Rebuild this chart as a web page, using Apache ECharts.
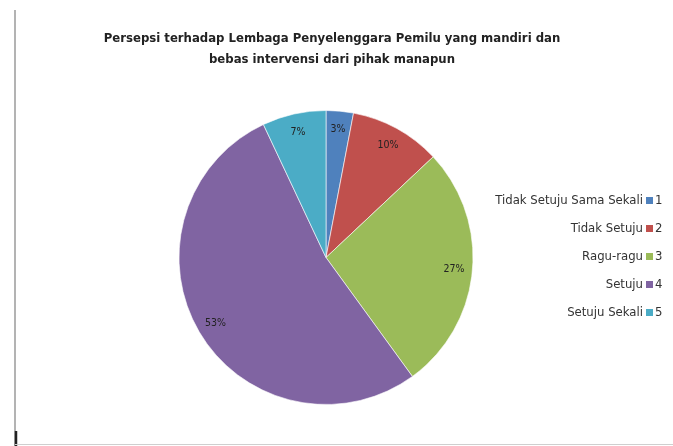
<!DOCTYPE html>
<html>
<head>
<meta charset="utf-8">
<script src="https://cdn.jsdelivr.net/npm/echarts@6/dist/echarts.min.js"></script>
<style>html,body{margin:0;padding:0;background:#fff}#c{width:673px;height:446px}</style>
</head>
<body>
<div id="c"></div>
<script>
const titleText = 'Persepsi terhadap Lembaga Penyelenggara Pemilu yang mandiri dan\nbebas intervensi dari pihak manapun';
const categories = ['Tidak Setuju Sama Sekali', 'Tidak Setuju', 'Ragu-ragu', 'Setuju', 'Setuju Sekali'];
const codes = ['1', '2', '3', '4', '5'];
const values = [3, 10, 27, 53, 7];
const colors = ['#4F81BD', '#C0504D', '#9BBB59', '#8064A2', '#4BACC6'];

const data = categories.map((c, i) => ({ name: c, value: values[i], itemStyle: { color: colors[i] } }));
const codeOf = {};
categories.forEach((c, i) => codeOf[c] = codes[i]);

const chart = echarts.init(document.getElementById('c'), null, { renderer: 'canvas' });
const font = '"Liberation Sans Narrow", "DejaVu Sans Condensed", "Liberation Sans", sans-serif';
chart.setOption({
  animation: false,
  backgroundColor: '#fff',
  title: {
    text: titleText,
    left: 327, top: 23, textAlign: 'center',
    textStyle: { fontFamily: font, fontSize: 13, fontWeight: 'bold', color: '#222', lineHeight: 21 }
  },
  legend: [{
    orient: 'vertical', right: 20, top: 194, padding: 0,
    align: 'right', itemWidth: 7, itemHeight: 7, itemGap: 15,
    icon: 'rect', selectedMode: false,
    itemStyle: { borderWidth: 0 },
    data: categories,
    textStyle: { fontFamily: font, fontSize: 13, color: '#333', padding: [0, -2, 0, 0] }
  }, {
    orient: 'vertical', left: 646, top: 194, padding: 0,
    align: 'left', itemWidth: 7, itemHeight: 7, itemGap: 15,
    icon: 'rect', selectedMode: false,
    itemStyle: { opacity: 0, borderWidth: 0 },
    data: categories,
    formatter: n => codeOf[n],
    textStyle: { fontFamily: font, fontSize: 13, color: '#333', padding: [0, 0, 0, -3] }
  }],
  graphic: [
    { type: 'line', shape: { x1: 15, y1: 10, x2: 15, y2: 446 }, style: { stroke: '#9a9a9a', lineWidth: 1.5 } },
    { type: 'line', shape: { x1: 16, y1: 431, x2: 16, y2: 446 }, style: { stroke: '#222', lineWidth: 2.5 } },
    { type: 'line', shape: { x1: 15, y1: 444.5, x2: 673, y2: 444.5 }, style: { stroke: '#cfcfcf', lineWidth: 1 } }
  ],
  series: [{
    type: 'pie',
    center: [326, 257.5], radius: 147,
    startAngle: 90, clockwise: true,
    data: data,
    label: { show: false },
    labelLine: { show: false },
    itemStyle: { borderColor: '#fff', borderWidth: 0.6 },
    emphasis: { disabled: true }
  }, {
    type: 'pie',
    center: [326, 257.5], radius: [104, 147],
    startAngle: 90, clockwise: true,
    silent: true,
    data: data.map(d => ({ name: d.name, value: d.value })),
    itemStyle: { color: 'rgba(0,0,0,0)', opacity: 0 },
    label: {
      show: true, position: 'inside',
      formatter: p => p.value + '%',
      fontFamily: font, fontSize: 10.5, color: '#222', opacity: 1
    },
    labelLine: { show: false },
    emphasis: { disabled: true }
  }]
});
</script>
</body>
</html>
